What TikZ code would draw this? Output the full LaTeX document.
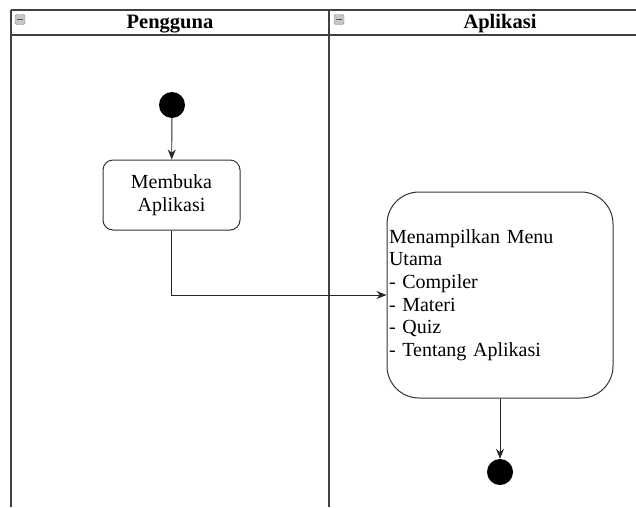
\documentclass[tikz,border=0pt]{standalone}
\usepackage{fontspec}
\setmainfont{Liberation Serif}
\usetikzlibrary{arrows.meta}
\begin{document}
\begin{tikzpicture}[x=1pt,y=-1pt,
  lane/.style={draw=black!75,line width=1.4pt},
  actbox/.style={draw=black!80,line width=1pt,fill=white,font=\fontsize{20}{22.6}\selectfont},
  dot/.style={circle,fill=black,minimum size=26pt,inner sep=0pt},
  flow/.style={draw=black!85,line width=0.9pt,-{Stealth[length=10pt,width=8pt]}},
  lanetitle/.style={font=\bfseries\fontsize{20.5}{22}\selectfont},
  foldicon/.style={draw=black!45,fill=black!22,rounded corners=1.5pt,minimum size=10pt,inner sep=0pt}]
\useasboundingbox (0,0) rectangle (636,507);
% swimlane frame
\draw[lane] (11,10) -- (636,10);
\draw[lane] (11,35) -- (636,35);
\draw[lane] (11,10) -- (11,507);
\draw[lane] (329,10) -- (329,507);
% lane headers
\node[foldicon] (fold1) at (20,19.5) {};
\draw[black!65,line width=1pt] ([xshift=-3pt]fold1.center) -- ([xshift=3pt]fold1.center);
\node[foldicon] (fold2) at (339,19.5) {};
\draw[black!65,line width=1pt] ([xshift=-3pt]fold2.center) -- ([xshift=3pt]fold2.center);
\node[lanetitle] (lane1) at (170,24) {Pengguna};
\node[lanetitle] (lane2) at (500,24) {Aplikasi};
% activities
\node[dot] (start) at (172,105) {};
\node[actbox,rounded corners=10pt,minimum width=137pt,minimum height=70pt,align=center] (open) at (171.5,195) {Membuka\\Aplikasi};
\node[actbox,rounded corners=32pt,minimum width=226pt,minimum height=206pt,text width=222pt,inner xsep=2pt,align=left] (menu) at (500,295)
  {Menampilkan Menu\\Utama\\- Compiler\\- Materi\\- Quiz\\- Tentang Aplikasi};
\node[dot] (final) at (500,472) {};
% transitions
\draw[flow] (start) -- (open);
\draw[flow] (open.south) |- (menu.west);
\draw[flow] (menu.south) -- (final);
\end{tikzpicture}
\end{document}
